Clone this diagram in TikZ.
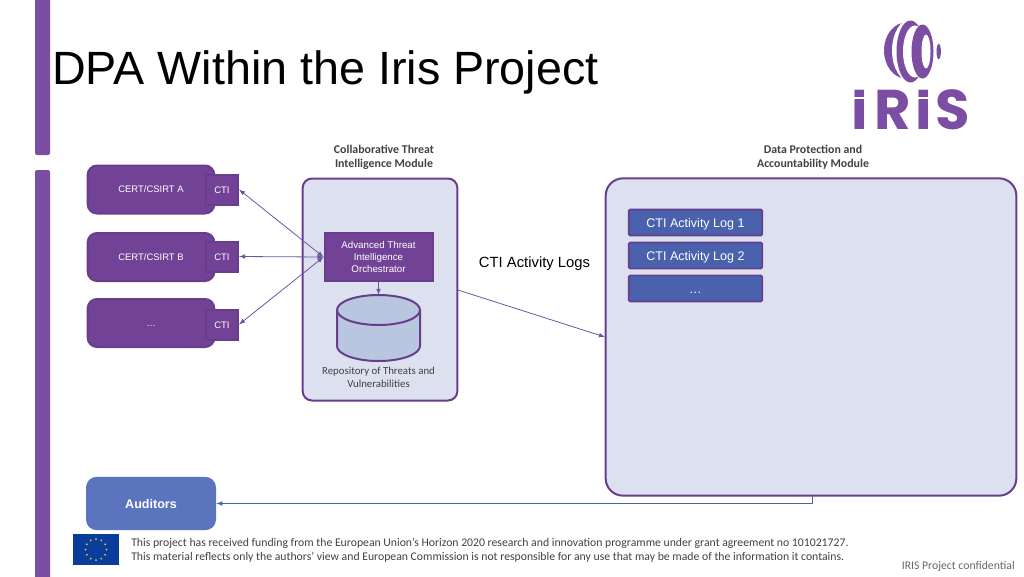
\documentclass[tikz,border=0pt]{standalone}
\usepackage{fontspec}
\setmainfont{Liberation Sans}
\newfontfamily\carlitofont{Carlito}
\newfontfamily\logofont{Poppins}
\usetikzlibrary{calc,arrows}
\definecolor{mypurple}{RGB}{123,78,163}
\definecolor{mydarkpurple}{RGB}{104,62,140}
\definecolor{myboxpurple}{RGB}{113,66,150}
\definecolor{mylilac}{RGB}{221,225,239}
\definecolor{myblue}{RGB}{91,116,190}
\definecolor{myslate}{RGB}{74,98,174}
\definecolor{mycylinder}{RGB}{185,198,224}
\definecolor{myline}{RGB}{112,84,160}
\definecolor{myheading}{RGB}{64,64,70}
\definecolor{myeu}{RGB}{10,60,156}
\definecolor{mystar}{RGB}{225,205,60}

\begin{document}
\begin{tikzpicture}[
  x=0.75pt,
  y=-0.75pt,
  >=latex,
  mybar/.style={
    fill=mypurple,
    rounded corners=1.5pt
    },
  mycert/.style={
    draw=mydarkpurple,
    fill=myboxpurple,
    line width=1.5pt,
    rounded corners=7pt,
    minimum width=95pt,
    minimum height=36pt,
    text height=5pt,
    text depth=0pt,
    text=white,
    font=\fontsize{7.1}{8}\selectfont
    },
  mycti/.style={
    draw=mydarkpurple,
    fill=myboxpurple,
    line width=1.5pt,
    minimum width=24pt,
    minimum height=22.5pt,
    inner sep=0pt,
    text height=6.5pt,
    text depth=0pt,
    text=white,
    font=\fontsize{7.1}{8}\selectfont
    },
  mymodule/.style={
    draw=mydarkpurple,
    fill=mylilac,
    line width=1.5pt,
    rounded corners=#1
    },
  myheading/.style={
    align=center,
    text=myheading,
    font=\carlitofont\bfseries\fontsize{8.9}{10.5}\selectfont
    },
  mylog/.style={
    draw=mydarkpurple,
    fill=myslate,
    line width=1.3pt,
    rounded corners=1pt,
    minimum width=100pt,
    minimum height=19.5pt,
    inner sep=0pt,
    text height=8.1pt,
    text depth=0pt,
    text=white,
    font=\fontsize{9.4}{11}\selectfont
    },
  myarrow/.style={
    myline,
    line width=0.6pt
    },
  myfooter/.style={
    anchor=west,
    inner sep=0pt,
    text=black!75,
    font=\carlitofont\fontsize{8.8}{10}\selectfont
    }
]
\useasboundingbox (0,0) rectangle (1024,576);

\fill[mybar] (35,-5) rectangle (50,155);
\fill[mybar] (35,170) rectangle (50,581);

\node[anchor=west, inner sep=0pt, font=\fontsize{35}{42}\selectfont] (title) at (52,72) {DPA Within the Iris Project};

\fill[mypurple] (906,50.5) ellipse (22 and 28);
\fill[white] (912,50.5) ellipse (20 and 32);
\fill[mypurple] (910.5,51.5) ellipse (14 and 31);
\fill[white] (915,51.5) ellipse (12 and 26);
\fill[mypurple] (922.5,51.5) ellipse (11 and 27);
\fill[white] (926,51.5) ellipse (4.5 and 17);
\fill[mypurple] (938.7,51.5) ellipse (2.2 and 7.7);
\node[inner sep=0pt, text=mypurple, font=\logofont\bfseries\fontsize{42}{42}\selectfont] (logo) at (911,110) {I\hspace{5pt}R\hspace{3pt}I\hspace{3pt}S};
\foreach \Valor in {853,916}
  \fill[white] (\Valor,97) rectangle (\Valor+13,99);

\node[myheading] (ctihead) at (384,157.5) {Collaborative Threat\\Intelligence Module};
\node[myheading] (dpahead) at (813,157.5) {Data Protection and\\Accountability Module};

\node[mymodule=7pt, minimum width=116pt, minimum height=166.5pt] (ctimod) at (380,289.5) {};
\node[mymodule=13pt, minimum width=308pt, minimum height=238pt] (dpamod) at (811,337) {};

\foreach \Valor/\Valory [count=\Valori from 1] in {{CERT/CSIRT A}/189.5, {CERT/CSIRT B}/257, …/323}
  \node[mycert] (cert\Valori) at (151,\Valory) {\Valor};
\foreach \Valory [count=\Valori from 1] in {189.5, 256.5, 324.5}
  \node[mycti] (cti\Valori) at (222,\Valory) {CTI};

\node[draw=mydarkpurple, fill=myboxpurple, line width=1.5pt, minimum width=81pt, minimum height=36pt, inner sep=0pt, align=center, text=white, font=\fontsize{7.3}{8.8}\selectfont] (orch) at (378.5,257) {Advanced Threat\\Intelligence\\Orchestrator};
\coordinate (repotop) at (378.5,295);
\draw[draw=mydarkpurple, fill=mycylinder, line width=1.5pt] (337,310) -- (337,346) arc[start angle=180, end angle=0, x radius=41.5, y radius=15] -- (420,310);
\draw[draw=mydarkpurple, fill=mycylinder, line width=1.5pt] (378.5,310) ellipse (41.5 and 15);
\node[align=center, inner sep=0pt, text=myheading, font=\carlitofont\fontsize{8.1}{10}\selectfont] (repotext) at (378.5,377.5) {Repository of Threats and\\Vulnerabilities};

\foreach \Valori in {1,2,3}
  \draw[myarrow, <->] (orch.west) -- (cti\Valori.east);
\draw[myarrow, ->] (orch.south) -- (repotop);

\node[font=\fontsize{11.1}{13}\selectfont, inner sep=0pt] (logslabel) at (534.5,264) {CTI Activity Logs};
\coordinate (logsout) at (458,290);
\coordinate (logsin) at (605,337);
\draw[myarrow, ->] (logsout) -- (logsin);

\node[mylog] (log1) at (695.5,222.5) {CTI Activity Log 1};
\node[mylog] (log2) at (695.5,255.5) {CTI Activity Log 2};
\node[mylog] (log3) at (695.5,288.5) {…};

\node[fill=myblue, rounded corners=8pt, minimum width=97.5pt, minimum height=40pt, inner sep=0pt, text height=8.2pt, text depth=0pt, text=white, font=\bfseries\fontsize{9.4}{11}\selectfont] (auditors) at (151,503.5) {Auditors};
\coordinate (dpaout) at (812,496);
\draw[myarrow, myslate, ->] (dpaout) |- (auditors.east);

\fill[myeu] (73,534) rectangle (119,565);
\foreach \Valor in {30,60,...,360}
  \fill[mystar] ($(96,549.5)+(\Valor:10.5)$) circle (1);

\node[myfooter] (fund1) at (131,543.5) {This project has received funding from the European Union’s Horizon 2020 research and innovation programme under grant agreement no 101021727.};
\node[myfooter] (fund2) at (131,557.5) {This material reflects only the authors’ view and European Commission is not responsible for any use that may be made of the information it contains.};
\node[anchor=east, inner sep=0pt, text=black!60, font=\carlitofont\fontsize{8.8}{10}\selectfont] (conf) at (1015,566) {IRIS Project confidential};

\end{tikzpicture}
\end{document}
